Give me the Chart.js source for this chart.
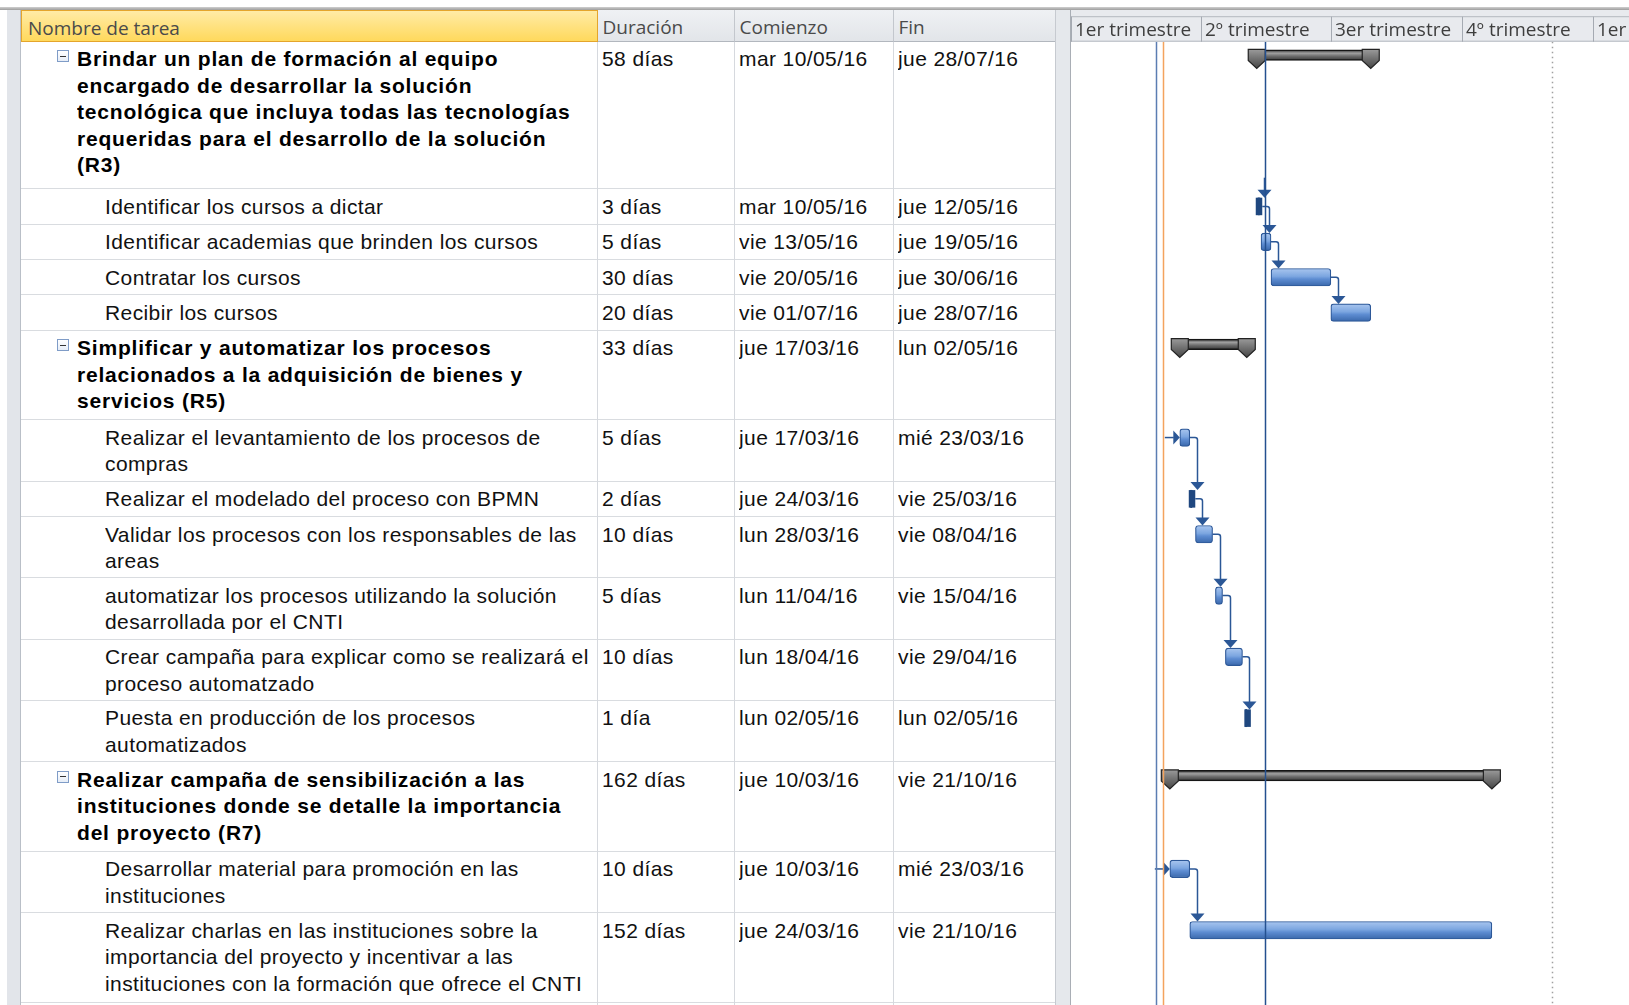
<!DOCTYPE html>
<html lang="es">
<head>
<meta charset="utf-8">
<title>Diagrama de Gantt</title>
<script src="https://cdn.jsdelivr.net/npm/chart.js@4.4.1/dist/chart.umd.min.js"></script>
<style>
  html, body { margin: 0; padding: 0; background: #fff; }
  #page { width: 1629px; height: 1005px; position: relative; overflow: hidden; font-family: "Liberation Sans", Arial, sans-serif; }
  .box { position: absolute; box-sizing: border-box; }
  .cell { position: absolute; box-sizing: border-box; overflow: hidden; white-space: pre; font-size: 21px; line-height: 26.5px; padding-top: 4.5px; letter-spacing: 0.4px; color: #111; }
  .cell.bold { font-weight: bold; letter-spacing: 0.8px; color: #000; }
  .hcell { position: absolute; top: 10px; height: 31.7px; box-sizing: border-box; font-family: "Open Sans", sans-serif; font-size: 19px; line-height: 30px; padding-top: 1.5px; color: #4a4a4a; padding-left: 5px; white-space: nowrap; overflow: hidden;
           background: linear-gradient(#eff1f4, #e2e5e9); border-right: 1px solid #c3c7cd; border-bottom: 1px solid #b2b7be; }
  .hcell.yellow { background: linear-gradient(#ffeba6, #ffd95c); border: 1px solid #e4a52c; padding-left: 6px; }
  .drop { position: absolute; top: 23px; width: 0; height: 0; border-left: 4.5px solid transparent; border-right: 4.5px solid transparent; border-top: 6px solid #2a2a2a; }
  .toggle { position: absolute; width: 12px; height: 12px; box-sizing: border-box; border: 1px solid #7f9cc7; background: linear-gradient(#ffffff, #e6edf7); }
  .toggle::after { content: ""; position: absolute; left: 2px; top: 4.5px; width: 6px; height: 1.2px; background: #333; }
  #gantt { position: absolute; left: 1071px; top: 10px; }
</style>
</head>
<body>
<div id="page">
  <canvas id="gantt" width="558" height="995"></canvas>
</div>
<script>
// ---------- datos ----------
const taskNames = [
  'Brindar un plan de formación al equipo\nencargado de desarrollar la solución\ntecnológica que incluya todas las tecnologías\nrequeridas para el desarrollo de la solución\n(R3)',
  'Identificar los cursos a dictar',
  'Identificar academias que brinden los cursos',
  'Contratar los cursos',
  'Recibir los cursos',
  'Simplificar y automatizar los procesos\nrelacionados a la adquisición de bienes y\nservicios (R5)',
  'Realizar el levantamiento de los procesos de\ncompras',
  'Realizar el modelado del proceso con BPMN',
  'Validar los procesos con los responsables de las\nareas',
  'automatizar los procesos utilizando la solución\ndesarrollada por el CNTI',
  'Crear campaña para explicar como se realizará el\nproceso automatzado',
  'Puesta en producción de los procesos\nautomatizados',
  'Realizar campaña de sensibilización a las\ninstituciones donde se detalle la importancia\ndel proyecto (R7)',
  'Desarrollar material para promoción en las\ninstituciones',
  'Realizar charlas en las instituciones sobre la\nimportancia del proyecto y incentivar a las\ninstituciones con la formación que ofrece el CNTI'
];
const summaryFlags = [1, 0, 0, 0, 0, 1, 0, 0, 0, 0, 0, 0, 1, 0, 0];
const durationDays = [58, 3, 5, 30, 20, 33, 5, 2, 10, 5, 10, 1, 162, 10, 152];
const startDates = ['2016-05-10', '2016-05-10', '2016-05-13', '2016-05-20', '2016-07-01',
                    '2016-03-17', '2016-03-17', '2016-03-24', '2016-03-28', '2016-04-11', '2016-04-18', '2016-05-02',
                    '2016-03-10', '2016-03-10', '2016-03-24'];
const endDates = ['2016-07-28', '2016-05-12', '2016-05-19', '2016-06-30', '2016-07-28',
                  '2016-05-02', '2016-03-23', '2016-03-25', '2016-04-08', '2016-04-15', '2016-04-29', '2016-05-02',
                  '2016-10-21', '2016-03-23', '2016-10-21'];
// predecessor -> successor (row index)
const links = [[1, 2], [2, 3], [3, 4], [6, 7], [7, 8], [8, 9], [9, 10], [10, 11], [13, 14]];
const linkedFromAbove = [1];
const linkedFromLeft = [6, 13];

const columnTitles = ['Nombre de tarea', 'Duración', 'Comienzo', 'Fin'];
const quarterLabels = ['1er trimestre', '2º trimestre', '3er trimestre', '4º trimestre', '1er trimestre'];
const quarterStarts = ['2016-01-01', '2016-04-01', '2016-07-01', '2016-10-01', '2017-01-01'];
const markerDates = ['2016-02-29', '2016-03-05', '2016-05-16', '2016-12-03'];
const weekDays = ['dom', 'lun', 'mar', 'mié', 'jue', 'vie', 'sáb'];

// ---------- estilos / layout ----------
const markerStyles = [
  { color: '#5b7db2', dash: [] },
  { color: '#f4a35e', dash: [] },
  { color: '#24508f', dash: [] },
  { color: '#a0a0a0', dash: [1.5, 3.5] }
];
const ROW_HEIGHT = { 1: 35.4, 2: 61.3, 3: 89.5, 5: 147.5 };
const TABLE_TOP = 41.7;
const COLS = [[21, 597.5], [597.5, 734.5], [734.5, 893.5], [893.5, 1055.5]];
const NAVY = '#1f477f';
const LINK = '#2b5796';
const PX_PER_DAY = 1.425;
const X_MIN = -0.35;
const CW = 558, CH = 995, HEAD = 31.7;

const dayOf = s => {
  const [y, m, d] = s.split('-').map(Number);
  return (Date.UTC(y, m - 1, d) - Date.UTC(2016, 0, 1)) / 864e5;
};
const fmtDate = s => {
  const [y, m, d] = s.split('-').map(Number);
  const wd = weekDays[new Date(Date.UTC(y, m - 1, d)).getUTCDay()];
  return wd + ' ' + String(d).padStart(2, '0') + '/' + String(m).padStart(2, '0') + '/' + String(y).slice(2);
};
const fmtDur = n => n + (n === 1 ? ' día' : ' días');

const rowTops = [];
const rowHeights = [];
let acc = 0;
taskNames.forEach(n => {
  const h = ROW_HEIGHT[n.split('\n').length];
  rowTops.push(acc);
  rowHeights.push(h);
  acc += h;
});

// ---------- tabla ----------
const page = document.getElementById('page');
function add(cls, css, text) {
  const d = document.createElement('div');
  d.className = cls;
  d.style.cssText = css;
  if (text !== undefined) d.textContent = text;
  page.insertBefore(d, page.firstChild);
  return d;
}

add('box', 'left:0;top:7px;width:1629px;height:3px;background:linear-gradient(#cfcfcf,#9d9d9d);');
add('box', 'left:7px;top:10px;width:14px;height:995px;background:#e2e5ea;border-right:1px solid #b9bfc7;');
add('box', 'left:1055px;top:10px;width:16px;height:995px;background:#e5e8ec;border-left:1px solid #c6cad0;border-right:1px solid #a9aeb5;');
add('box', 'left:1062px;top:10px;width:1px;height:995px;background:#c4c9cf;');

columnTitles.forEach((t, i) => {
  const [a, b] = COLS[i];
  add('hcell' + (i === 0 ? ' yellow' : ''), `left:${a}px;width:${b - a}px;`, t);
  add('drop', `left:${b - 22}px;`);
});

COLS.forEach(([a, b], i) => {
  if (i > 0) add('box', `left:${a - 1}px;top:${TABLE_TOP}px;width:1px;height:${1005 - TABLE_TOP}px;background:#d6d9de;`);
});

taskNames.forEach((name, i) => {
  const top = TABLE_TOP + rowTops[i];
  const h = rowHeights[i];
  const bold = summaryFlags[i] === 1;
  add('box', `left:7px;top:${top + h - 1}px;width:14px;height:1px;background:#c4c9d0;`);
  add('box', `left:21px;top:${top + h - 1}px;width:1034px;height:1px;background:#d9dce0;`);
  const nameLeft = bold ? 77 : 105;
  add('cell' + (bold ? ' bold' : ''), `left:${nameLeft}px;top:${top}px;width:${597 - nameLeft}px;height:${h}px;`, name);
  if (bold) add('toggle', `left:57px;top:${top + 8.5}px;`);
  add('cell', `left:602px;top:${top}px;width:130px;height:${h}px;`, fmtDur(durationDays[i]));
  add('cell', `left:739px;top:${top}px;width:152px;height:${h}px;`, fmtDate(startDates[i]));
  add('cell', `left:898px;top:${top}px;width:155px;height:${h}px;`, fmtDate(endDates[i]));
});

// ---------- diagrama ----------
const summaryData = [];
const taskData = [];
taskNames.forEach((n, i) => {
  const item = {
    x: [dayOf(startDates[i]), dayOf(endDates[i]) + 1],
    y: rowTops[i] + (summaryFlags[i] ? 13.5 : 17.25),
    task: i
  };
  (summaryFlags[i] ? summaryData : taskData).push(item);
});

function pixelsReady(chart, raw) {
  if (!raw || !chart.scales.x || !chart.scales.y) return false;
  const a = chart.scales.x.getPixelForValue(raw.x[0]);
  const b = chart.scales.y.getPixelForValue(raw.y);
  return Number.isFinite(a) && Number.isFinite(b);
}
function isNarrow(chart, raw) {
  const xs = chart.scales.x;
  return xs.getPixelForValue(raw.x[1]) - xs.getPixelForValue(raw.x[0]) < 6;
}
function taskFill(ctx) {
  const chart = ctx.chart, raw = ctx.raw;
  if (!pixelsReady(chart, raw)) return '#6d9bd8';
  if (isNarrow(chart, raw)) return NAVY;
  const yc = chart.scales.y.getPixelForValue(raw.y);
  const g = chart.ctx.createLinearGradient(0, yc - 8.75, 0, yc + 8.75);
  g.addColorStop(0, '#a9c6ef');
  g.addColorStop(0.45, '#7ca6e0');
  g.addColorStop(0.6, '#5e8dd2');
  g.addColorStop(1, '#3a68ab');
  return g;
}
function taskBorder(ctx) {
  const chart = ctx.chart, raw = ctx.raw;
  if (!pixelsReady(chart, raw)) return '#2d5898';
  return isNarrow(chart, raw) ? NAVY : '#2d5898';
}
function summaryFill(ctx) {
  const chart = ctx.chart, raw = ctx.raw;
  if (!pixelsReady(chart, raw)) return '#666';
  const yc = chart.scales.y.getPixelForValue(raw.y);
  const g = chart.ctx.createLinearGradient(0, yc - 5, 0, yc + 5);
  g.addColorStop(0, '#3a3a3a');
  g.addColorStop(0.3, '#a0a0a0');
  g.addColorStop(0.6, '#6c6c6c');
  g.addColorStop(1, '#3a3a3a');
  return g;
}

function downTri(c, x, tip) {
  c.beginPath();
  c.moveTo(x - 7, tip - 8);
  c.lineTo(x + 7, tip - 8);
  c.lineTo(x, tip);
  c.closePath();
  c.fill();
}

const ganttPlugin = {
  id: 'ganttExtras',
  afterDatasetsDraw(chart) {
    const c = chart.ctx, xs = chart.scales.x, area = chart.chartArea;
    c.save();
    // tareas cortas: ancho mínimo
    const shapes = {};
    chart.getDatasetMeta(1).data.forEach((bar, k) => {
      const p = bar.getProps(['x', 'base', 'y', 'height'], true);
      let left = Math.min(p.x, p.base), right = Math.max(p.x, p.base);
      const top = p.y - p.height / 2;
      if (right - left < 6) {
        left -= 1;
        right = left + 6.5;
        c.fillStyle = NAVY;
        c.fillRect(left, top, right - left, p.height);
      }
      shapes[taskData[k].task] = { left, right, top, y: p.y };
    });
    // extremos de las tareas resumen
    chart.getDatasetMeta(0).data.forEach(bar => {
      const p = bar.getProps(['x', 'base', 'y', 'height'], true);
      const top = p.y - p.height / 2 - 0.5;
      const bottom = p.y + p.height / 2;
      [Math.min(p.x, p.base), Math.max(p.x, p.base)].forEach(t => {
        const g = c.createLinearGradient(0, top, 0, bottom + 8);
        g.addColorStop(0, '#9a9a9a');
        g.addColorStop(1, '#454545');
        c.beginPath();
        c.moveTo(t - 8.5, top);
        c.lineTo(t + 8.5, top);
        c.lineTo(t + 8.5, bottom);
        c.lineTo(t, bottom + 8);
        c.lineTo(t - 8.5, bottom);
        c.closePath();
        c.fillStyle = g;
        c.fill();
        c.strokeStyle = '#232323';
        c.lineWidth = 1.2;
        c.stroke();
      });
    });
    // vínculos
    c.strokeStyle = LINK;
    c.fillStyle = LINK;
    c.lineWidth = 1.5;
    links.forEach(([a, b]) => {
      const s = shapes[a], t = shapes[b];
      const X = Math.round(s.right + 7) + 0.5;
      c.beginPath();
      c.moveTo(s.right, s.y);
      c.lineTo(X - 2.5, s.y);
      c.quadraticCurveTo(X, s.y, X, s.y + 2.5);
      c.lineTo(X, t.top - 7);
      c.stroke();
      downTri(c, X, t.top);
    });
    linkedFromAbove.forEach(i => {
      const t = shapes[i];
      const X = Math.round(t.left + 8.5) + 0.5;
      c.beginPath();
      c.moveTo(X, t.top - 20);
      c.lineTo(X, t.top - 7);
      c.stroke();
      downTri(c, X, t.top);
    });
    linkedFromLeft.forEach(i => {
      const t = shapes[i];
      c.beginPath();
      c.moveTo(t.left - 15, t.y);
      c.lineTo(t.left - 6, t.y);
      c.stroke();
      c.beginPath();
      c.moveTo(t.left - 6.5, t.y - 7);
      c.lineTo(t.left - 6.5, t.y + 7);
      c.lineTo(t.left, t.y);
      c.closePath();
      c.fill();
    });
    // líneas verticales
    markerDates.forEach((d, i) => {
      const px = Math.round(xs.getPixelForValue(dayOf(d))) + 0.5;
      c.strokeStyle = markerStyles[i].color;
      c.setLineDash(markerStyles[i].dash);
      c.lineWidth = 1.5;
      c.beginPath();
      c.moveTo(px, area.top);
      c.lineTo(px, area.bottom);
      c.stroke();
    });
    c.restore();
  },
  afterDraw(chart) {
    // escala de tiempo (trimestres)
    const c = chart.ctx, xs = chart.scales.x;
    c.save();
    c.fillStyle = '#e8eaee';
    c.fillRect(0, 0, chart.width, HEAD);
    c.fillStyle = '#b3b8bf';
    c.fillRect(0, 6.2, chart.width, 1);
    c.fillRect(0, HEAD - 1, chart.width, 1);
    c.font = '19px "Open Sans"';
    c.textBaseline = 'alphabetic';
    quarterStarts.forEach((d, i) => {
      const px = Math.round(xs.getPixelForValue(dayOf(d)));
      c.fillStyle = '#a5aab2';
      c.fillRect(px, 6.7, 1, HEAD - 6.7);
      c.fillStyle = '#3e3e3e';
      c.fillText(quarterLabels[i], px + 4, 26);
    });
    c.restore();
  }
};

new Chart(document.getElementById('gantt'), {
  type: 'bar',
  data: {
    datasets: [
      {
        label: 'Resumen',
        data: summaryData,
        barThickness: 10.5,
        backgroundColor: summaryFill,
        borderColor: '#161616',
        borderWidth: 1.5,
        borderSkipped: false,
        grouped: false
      },
      {
        label: 'Tareas',
        data: taskData,
        barThickness: 17.5,
        backgroundColor: taskFill,
        borderColor: taskBorder,
        borderWidth: 1.2,
        borderRadius: 3,
        borderSkipped: false,
        grouped: false
      }
    ]
  },
  options: {
    indexAxis: 'y',
    responsive: false,
    animation: false,
    devicePixelRatio: 1,
    events: [],
    layout: { padding: { top: HEAD, left: 0, right: 0, bottom: 0 } },
    plugins: {
      legend: { display: false },
      title: { display: false },
      tooltip: { enabled: false }
    },
    scales: {
      x: { type: 'linear', min: X_MIN, max: X_MIN + CW / PX_PER_DAY, offset: false, display: false },
      y: { type: 'linear', min: 0, max: CH - HEAD, reverse: true, offset: false, display: false }
    }
  },
  plugins: [ganttPlugin]
});
</script>
</body>
</html>
